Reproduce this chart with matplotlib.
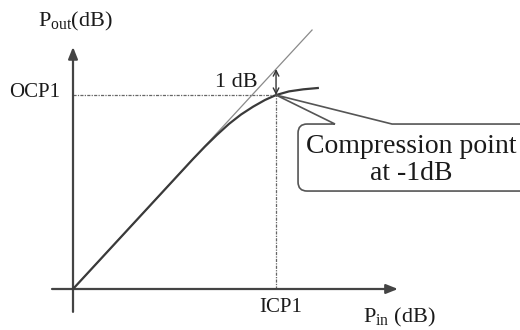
import matplotlib
matplotlib.use("Agg")
import matplotlib.pyplot as plt
from matplotlib.path import Path
from matplotlib.patches import PathPatch

plt.rcParams['font.family'] = ['Liberation Serif', 'DejaVu Serif']
plt.rcParams['mathtext.fontset'] = 'custom'
plt.rcParams['mathtext.rm'] = 'Liberation Serif'
plt.rcParams['mathtext.it'] = 'Liberation Serif:italic'

# ---- data (dB) ----
pin_curve = [0.0, 5.0, 5.5, 6.0, 6.5, 7.0, 7.5, 8.0, 8.46, 9.0, 9.6, 10.2]
pout_curve = [0.0, 5.0, 5.48, 5.93, 6.35, 6.71, 7.01, 7.27, 7.46, 7.6, 7.68, 7.73]
ideal_pin = [0.0, 9.96]
ideal_pout = [0.0, 9.96]
icp1 = 8.46
ocp1 = 7.46
x_label = r'$\mathrm{P}_{\mathrm{in}}$ (dB)'
y_label = r'$\mathrm{P}_{\mathrm{out}}$(dB)'
callout_text = "Compression point\nat -1dB"

fig = plt.figure(figsize=(5.2, 3.3), dpi=100)
ax = fig.add_axes([0, 0, 1, 1])
ax.set_xlim(-3.042, 18.625)
ax.set_ylim(-1.577, 11.115)
ax.axis('off')

axc = '#444444'
# axes with arrows
ax.annotate('', xy=(13.54, 0), xytext=(-0.875, 0),
            arrowprops=dict(arrowstyle='-|>,head_length=0.7,head_width=0.28',
                            color=axc, lw=1.6, shrinkA=0, shrinkB=0))
ax.annotate('', xy=(0, 9.31), xytext=(0, -0.88),
            arrowprops=dict(arrowstyle='-|>,head_length=0.7,head_width=0.28',
                            color=axc, lw=1.6, shrinkA=0, shrinkB=0))

# ideal linear line
ax.plot(ideal_pin, ideal_pout, color='#8a8a8a', lw=0.9, zorder=2)
# compressed curve
ax.plot(pin_curve, pout_curve, color='#3a3a3a', lw=1.6, zorder=3,
        solid_joinstyle='round')

# dotted guides
dash = (0, (2.5, 1, 1, 1))
ax.plot([0, icp1], [ocp1, ocp1], color='#666666', lw=0.9, linestyle=dash, zorder=1)
ax.plot([icp1, icp1], [0, ocp1], color='#666666', lw=0.9, linestyle=dash, zorder=1)

# 1 dB arrow
ax.annotate('', xy=(icp1, icp1), xytext=(icp1, ocp1),
            arrowprops=dict(arrowstyle='<->,head_length=0.4,head_width=0.2',
                            color='#333333', lw=1.0, shrinkA=0, shrinkB=0))
ax.text(icp1 - 0.75, ocp1 + 0.1, '1 dB', ha='right', va='bottom', fontsize=16, color='#1a1a1a')

# labels
ax.text(-0.55, ocp1 + 0.1, 'OCP1', ha='right', va='center', fontsize=15, color='#1a1a1a')
ax.text(icp1 + 0.2, -0.7, 'ICP1', ha='center', va='center', fontsize=15, color='#1a1a1a')
ax.text(12.1, -1.08, x_label, ha='left', va='center', fontsize=16, color='#1a1a1a')
ax.text(-1.45, 10.3, y_label, ha='left', va='center', fontsize=16, color='#1a1a1a')

# callout bubble (relative to compression point)
px, py = 24.0, 26.0  # px per dB in x / y
def P(dx, dy):
    return (icp1 + dx / px, ocp1 - dy / py)

r = 9
left, right, top, bottom = 22, 260, 29, 96
verts = [P(59, 29), P(0, 0), P(116, 29),
         P(right, top), P(right, bottom),
         P(left + r, bottom), P(left, bottom), P(left, bottom - r),
         P(left, top + r), P(left, top), P(left + r, top),
         P(59, 29)]
codes = [Path.MOVETO, Path.LINETO, Path.LINETO,
         Path.LINETO, Path.LINETO,
         Path.LINETO, Path.CURVE3, Path.CURVE3,
         Path.LINETO, Path.CURVE3, Path.CURVE3,
         Path.LINETO]
ax.add_patch(PathPatch(Path(verts, codes), facecolor='white', edgecolor='#555555',
                       lw=1.2, zorder=4, joinstyle='round'))
cx, cy = P(135, 65)
ax.text(cx, cy, callout_text, ha='center', va='center', fontsize=20,
        color='#1a1a1a', zorder=5, linespacing=1.1)

fig.savefig('out.png', dpi=100)
